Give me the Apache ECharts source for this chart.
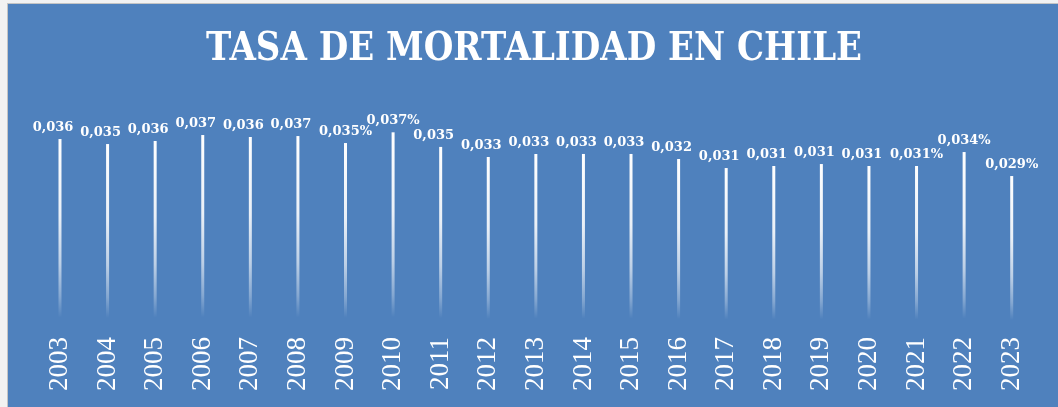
<!DOCTYPE html>
<html>
<head>
<meta charset="utf-8">
<script src="https://cdn.jsdelivr.net/npm/echarts@6/dist/echarts.min.js"></script>
<style>
  html, body { margin: 0; padding: 0; background: #f2f2f2; overflow: hidden; }
  #frame { position: absolute; left: 7px; top: 3px; width: 1051px; height: 404px;
           border-left: 1px solid #c4c4c4; border-top: 1px solid #c4c4c4; }
  #chart { position: absolute; left: 8px; top: 4px; width: 1050px; height: 403px; }
</style>
</head>
<body>
<div id="frame"></div>
<div id="chart"></div>
<script>
// Mortality rate by year (percent)
const years = ['2003', '2004', '2005', '2006', '2007', '2008', '2009', '2010', '2011', '2012',
               '2013', '2014', '2015', '2016', '2017', '2018', '2019', '2020', '2021', '2022', '2023'];
const rates = [0.0360, 0.03506, 0.03563, 0.03675, 0.03638, 0.03656, 0.03525, 0.03726, 0.03452, 0.03263,
               0.03319, 0.0332, 0.0332, 0.03225, 0.03056, 0.03094, 0.03131, 0.03094, 0.03094, 0.03356, 0.02906];
// Years whose data label prints the percent sign
const pctShown = ['2009', '2010', '2021', '2022', '2023'];
const titleText = 'TASA DE MORTALIDAD EN CHILE';

const chart = echarts.init(document.getElementById('chart'), null, { renderer: 'canvas' });

const fmt = v => v.toFixed(3).replace('.', ',');

// Title squeezed horizontally to a fixed width
const titleFont = 'bold 40px "DejaVu Serif"';
const probe = document.createElement('canvas').getContext('2d');
probe.font = titleFont;
const titleScale = 656 / probe.measureText(titleText).width;

chart.setOption({
  backgroundColor: '#4f81bd',
  animation: false,
  graphic: [{
    type: 'text',
    x: 526,
    y: 46,
    scaleX: titleScale,
    style: {
      text: titleText,
      fill: '#ffffff',
      font: titleFont,
      align: 'center', textAlign: 'center',
      verticalAlign: 'middle', textVerticalAlign: 'middle'
    }
  }],
  grid: { left: 28.2, right: 22.5, top: 113.7, bottom: 76, containLabel: false },
  xAxis: {
    type: 'category',
    data: years,
    boundaryGap: true,
    axisLine: { show: false },
    axisTick: { show: false },
    splitLine: { show: false },
    axisLabel: {
      rotate: 90,
      margin: 6,
      color: '#ffffff',
      fontFamily: 'Liberation Serif',
      fontSize: 27,
      interval: 0
    }
  },
  yAxis: {
    type: 'value',
    min: 0,
    max: 0.04,
    show: false,
    splitLine: { show: false }
  },
  series: [{
    type: 'bar',
    barWidth: 3,
    data: rates.map((v, i) => ({
      value: v,
      label: pctShown.includes(years[i]) ? {} : { offset: [-7, 0] }
    })),
    itemStyle: {
      color: new echarts.graphic.LinearGradient(0, 0, 0, 1, [
        { offset: 0, color: 'rgba(255,255,255,1)' },
        { offset: 0.4, color: 'rgba(255,255,255,0.88)' },
        { offset: 0.65, color: 'rgba(255,255,255,0.62)' },
        { offset: 0.82, color: 'rgba(255,255,255,0.3)' },
        { offset: 0.93, color: 'rgba(255,255,255,0)' },
        { offset: 1, color: 'rgba(255,255,255,0)' }
      ])
    },
    label: {
      show: true,
      position: 'top',
      distance: 5,
      color: '#ffffff',
      fontFamily: 'DejaVu Serif',
      fontWeight: 'bold',
      fontSize: 13,
      formatter: p => fmt(p.value) + (pctShown.includes(p.name) ? '%' : '')
    }
  }]
});
</script>
</body>
</html>
